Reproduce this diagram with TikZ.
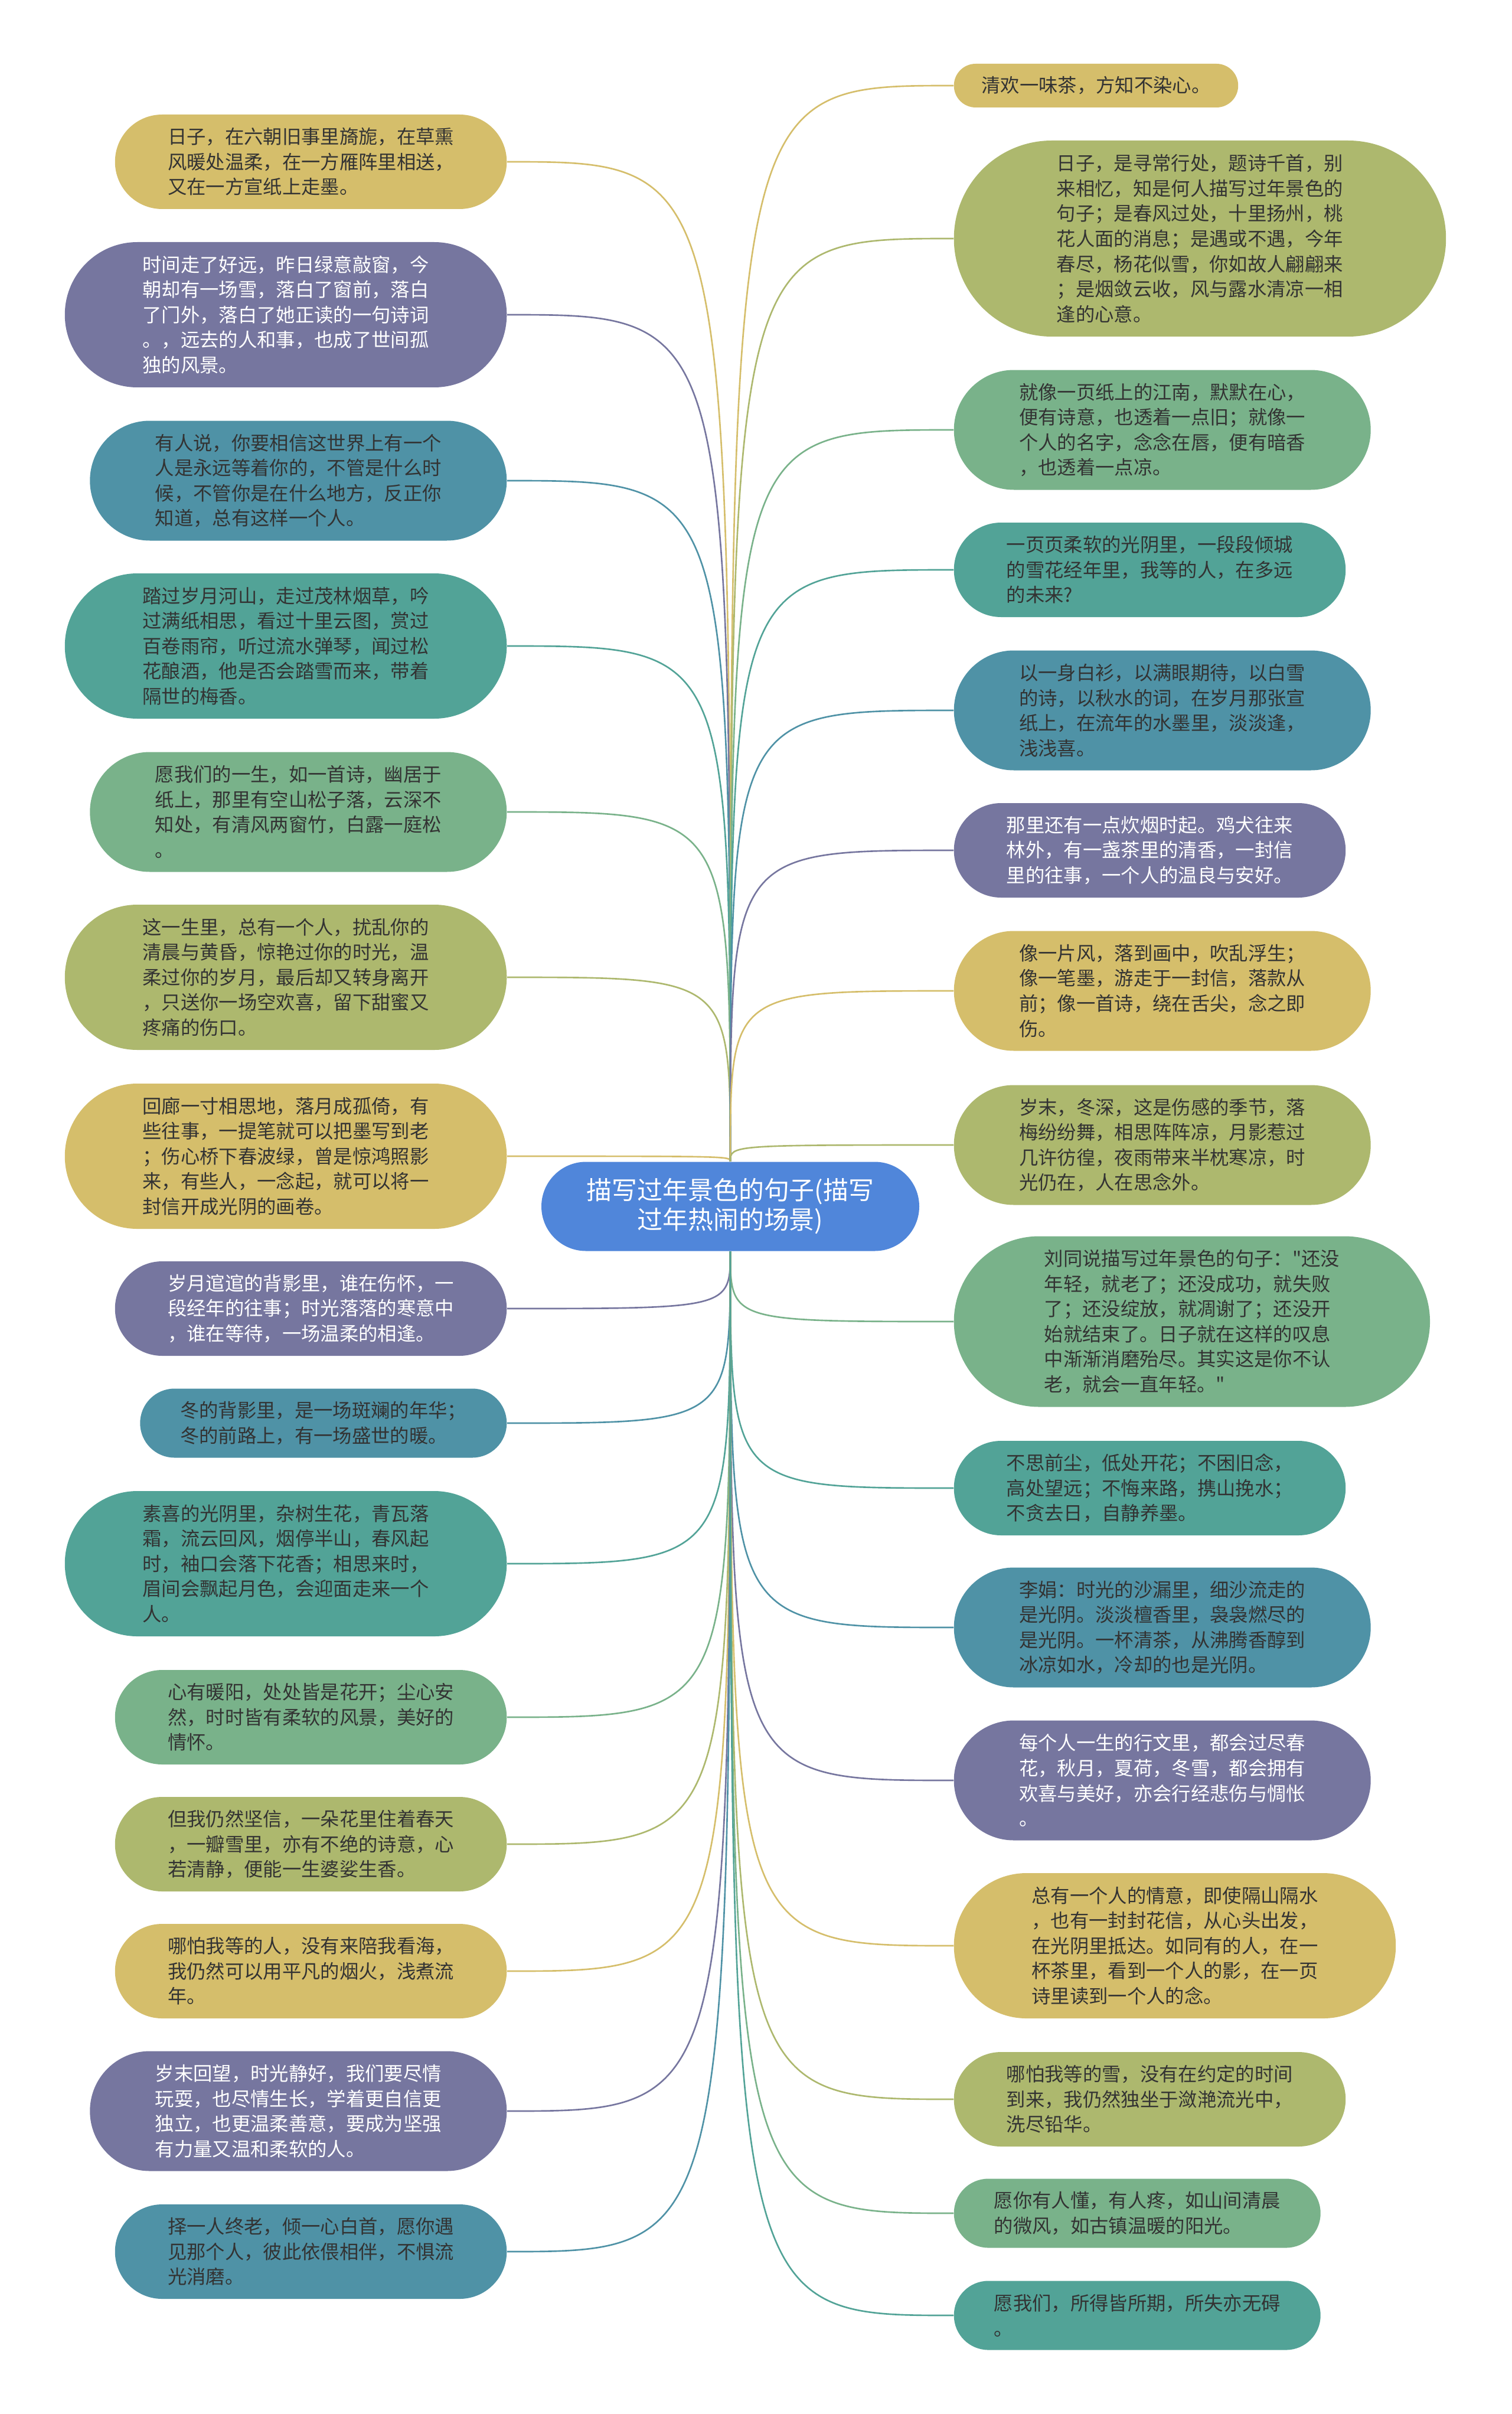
\documentclass[tikz,border=0pt]{standalone}
\usepackage{fontspec}
\newfontfamily\cjk{Noto Sans CJK SC}
\usepackage{tikz}
\usetikzlibrary{shapes.misc}
\definecolor{ctopic}{RGB}{80,134,218}
\definecolor{cgold}{RGB}{213,190,107}
\definecolor{colive}{RGB}{173,184,110}
\definecolor{cgreen}{RGB}{121,178,138}
\definecolor{cteal}{RGB}{82,163,151}
\definecolor{cblue}{RGB}{79,146,166}
\definecolor{cpurple}{RGB}{118,118,159}
\definecolor{cink}{RGB}{51,51,51}
\pgfdeclarelayer{links}
\pgfsetlayers{links,main}
\tikzset
{
  topic/.style={rounded rectangle,fill=ctopic,text=white,align=center,
    font=\cjk\fontsize{12.2pt}{14.2pt}\selectfont,
    minimum width=6.6cm,minimum height=1.51cm,inner xsep=0.1cm},
  leaf/.style={rectangle,text=cink,align=left,
    font=\cjk\fontsize{9.2pt}{12.1pt}\selectfont,inner ysep=0.1cm},
  nlines/.style={minimum height={0.31cm+#1*0.43cm},
    inner xsep={0.255cm+#1*0.2125cm},
    rounded corners={0.154cm+#1*0.215cm}},
  goldleaf/.style={leaf,fill=cgold},
  oliveleaf/.style={leaf,fill=colive},
  greenleaf/.style={leaf,fill=cgreen},
  tealleaf/.style={leaf,fill=cteal},
  blueleaf/.style={leaf,fill=cblue},
  purpleleaf/.style={leaf,fill=cpurple,text=white},
  link/.style={line width=0.75pt}
}

\begin{document}
\begin{tikzpicture}[x=1cm,y=-1cm]
        % Page frame
        \useasboundingbox (0,0) rectangle (25.6,40.88);

        % Central topic
        \node[topic] (topic) at (12.37,20.43) {描写过年景色的句子(描写\\过年热闹的场景)};

        % Left branch
        \node[goldleaf,nlines=3,anchor=east] (l1) at (8.59,2.74) {日子，在六朝旧事里旖旎，在草熏\\风暖处温柔，在一方雁阵里相送，\\又在一方宣纸上走墨。};
        \node[purpleleaf,nlines=5,anchor=east] (l2) at (8.59,5.33) {时间走了好远，昨日绿意敲窗，今\\朝却有一场雪，落白了窗前，落白\\了门外，落白了她正读的一句诗词\\。，远去的人和事，也成了世间孤\\独的风景。};
        \node[blueleaf,nlines=4,anchor=east] (l3) at (8.59,8.14) {有人说，你要相信这世界上有一个\\人是永远等着你的，不管是什么时\\候，不管你是在什么地方，反正你\\知道，总有这样一个人。};
        \node[tealleaf,nlines=5,anchor=east] (l4) at (8.59,10.94) {踏过岁月河山，走过茂林烟草，吟\\过满纸相思，看过十里云图，赏过\\百卷雨帘，听过流水弹琴，闻过松\\花酿酒，他是否会踏雪而来，带着\\隔世的梅香。};
        \node[greenleaf,nlines=4,anchor=east] (l5) at (8.59,13.75) {愿我们的一生，如一首诗，幽居于\\纸上，那里有空山松子落，云深不\\知处，有清风两窗竹，白露一庭松\\。};
        \node[oliveleaf,nlines=5,anchor=east] (l6) at (8.59,16.55) {这一生里，总有一个人，扰乱你的\\清晨与黄昏，惊艳过你的时光，温\\柔过你的岁月，最后却又转身离开\\，只送你一场空欢喜，留下甜蜜又\\疼痛的伤口。};
        \node[goldleaf,nlines=5,anchor=east] (l7) at (8.59,19.58) {回廊一寸相思地，落月成孤倚，有\\些往事，一提笔就可以把墨写到老\\；伤心桥下春波绿，曾是惊鸿照影\\来，有些人，一念起，就可以将一\\封信开成光阴的画卷。};
        \node[purpleleaf,nlines=3,anchor=east] (l8) at (8.59,22.16) {岁月逭逭的背影里，谁在伤怀，一\\段经年的往事；时光落落的寒意中\\，谁在等待，一场温柔的相逢。};
        \node[blueleaf,nlines=2,anchor=east] (l9) at (8.59,24.10) {冬的背影里，是一场斑斓的年华；\\冬的前路上，有一场盛世的暖。};
        \node[tealleaf,nlines=5,anchor=east] (l10) at (8.59,26.48) {素喜的光阴里，杂树生花，青瓦落\\霜，流云回风，烟停半山，春风起\\时，袖口会落下花香；相思来时，\\眉间会飘起月色，会迎面走来一个\\人。};
        \node[greenleaf,nlines=3,anchor=east] (l11) at (8.59,29.08) {心有暖阳，处处皆是花开；尘心安\\然，时时皆有柔软的风景，美好的\\情怀。};
        \node[oliveleaf,nlines=3,anchor=east] (l12) at (8.59,31.23) {但我仍然坚信，一朵花里住着春天\\，一瓣雪里，亦有不绝的诗意，心\\若清静，便能一生婆娑生香。};
        \node[goldleaf,nlines=3,anchor=east] (l13) at (8.59,33.38) {哪怕我等的人，没有来陪我看海，\\我仍然可以用平凡的烟火，浅煮流\\年。};
        \node[purpleleaf,nlines=4,anchor=east] (l14) at (8.59,35.75) {岁末回望，时光静好，我们要尽情\\玩耍，也尽情生长，学着更自信更\\独立，也更温柔善意，要成为坚强\\有力量又温和柔软的人。};
        \node[blueleaf,nlines=3,anchor=east] (l15) at (8.59,38.13) {择一人终老，倾一心白首，愿你遇\\见那个人，彼此依偎相伴，不惧流\\光消磨。};

        % Right branch
        \node[goldleaf,nlines=1,anchor=west] (r1) at (16.15,1.45) {清欢一味茶，方知不染心。};
        \node[oliveleaf,nlines=7,anchor=west] (r2) at (16.15,4.04) {日子，是寻常行处，题诗千首，别\\来相忆，知是何人描写过年景色的\\句子；是春风过处，十里扬州，桃\\花人面的消息；是遇或不遇，今年\\春尽，杨花似雪，你如故人翩翩来\\；是烟敛云收，风与露水清凉一相\\逢的心意。};
        \node[greenleaf,nlines=4,anchor=west] (r3) at (16.15,7.28) {就像一页纸上的江南，默默在心，\\便有诗意，也透着一点旧；就像一\\个人的名字，念念在唇，便有暗香\\，也透着一点凉。};
        \node[tealleaf,nlines=3,anchor=west] (r4) at (16.15,9.65) {一页页柔软的光阴里，一段段倾城\\的雪花经年里，我等的人，在多远\\的未来?};
        \node[blueleaf,nlines=4,anchor=west] (r5) at (16.15,12.03) {以一身白衫，以满眼期待，以白雪\\的诗，以秋水的词，在岁月那张宣\\纸上，在流年的水墨里，淡淡逢，\\浅浅喜。};
        \node[purpleleaf,nlines=3,anchor=west] (r6) at (16.15,14.40) {那里还有一点炊烟时起。鸡犬往来\\林外，有一盏茶里的清香，一封信\\里的往事，一个人的温良与安好。};
        \node[goldleaf,nlines=4,anchor=west] (r7) at (16.15,16.78) {像一片风，落到画中，吹乱浮生；\\像一笔墨，游走于一封信，落款从\\前；像一首诗，绕在舌尖，念之即\\伤。};
        \node[oliveleaf,nlines=4,anchor=west] (r8) at (16.15,19.39) {岁末，冬深，这是伤感的季节，落\\梅纷纷舞，相思阵阵凉，月影惹过\\几许彷徨，夜雨带来半枕寒凉，时\\光仍在，人在思念外。};
        \node[greenleaf,nlines=6,anchor=west] (r9) at (16.15,22.38) {刘同说描写过年景色的句子："还没\\年轻，就老了；还没成功，就失败\\了；还没绽放，就凋谢了；还没开\\始就结束了。日子就在这样的叹息\\中渐渐消磨殆尽。其实这是你不认\\老，就会一直年轻。"};
        \node[tealleaf,nlines=3,anchor=west] (r10) at (16.15,25.20) {不思前尘，低处开花；不困旧念，\\高处望远；不悔来路，携山挽水；\\不贪去日，自静养墨。};
        \node[blueleaf,nlines=4,anchor=west] (r11) at (16.15,27.56) {李娟：时光的沙漏里，细沙流走的\\是光阴。淡淡檀香里，袅袅燃尽的\\是光阴。一杯清茶，从沸腾香醇到\\冰凉如水，冷却的也是光阴。};
        \node[purpleleaf,nlines=4,anchor=west] (r12) at (16.15,30.15) {每个人一生的行文里，都会过尽春\\花，秋月，夏荷，冬雪，都会拥有\\欢喜与美好，亦会行经悲伤与惆怅\\。};
        \node[goldleaf,nlines=5,anchor=west] (r13) at (16.15,32.95) {总有一个人的情意，即使隔山隔水\\，也有一封封花信，从心头出发，\\在光阴里抵达。如同有的人，在一\\杯茶里，看到一个人的影，在一页\\诗里读到一个人的念。};
        \node[oliveleaf,nlines=3,anchor=west] (r14) at (16.15,35.55) {哪怕我等的雪，没有在约定的时间\\到来，我仍然独坐于潋滟流光中，\\洗尽铅华。};
        \node[greenleaf,nlines=2,anchor=west] (r15) at (16.15,37.48) {愿你有人懂，有人疼，如山间清晨\\的微风，如古镇温暖的阳光。};
        \node[tealleaf,nlines=2,anchor=west] (r16) at (16.15,39.21) {愿我们，所得皆所期，所失亦无碍\\。};

        % Links from the topic, drawn behind the boxes
        \begin{pgfonlayer}{links}
        \draw[link,cgold] (topic.north) .. controls (topic.north |- l1.east) .. (l1.east);
        \draw[link,cpurple] (topic.north) .. controls (topic.north |- l2.east) .. (l2.east);
        \draw[link,cblue] (topic.north) .. controls (topic.north |- l3.east) .. (l3.east);
        \draw[link,cteal] (topic.north) .. controls (topic.north |- l4.east) .. (l4.east);
        \draw[link,cgreen] (topic.north) .. controls (topic.north |- l5.east) .. (l5.east);
        \draw[link,colive] (topic.north) .. controls (topic.north |- l6.east) .. (l6.east);
        \draw[link,cgold] (topic.north) .. controls (topic.north |- l7.east) .. (l7.east);
        \draw[link,cpurple] (topic.south) .. controls (topic.south |- l8.east) .. (l8.east);
        \draw[link,cblue] (topic.south) .. controls (topic.south |- l9.east) .. (l9.east);
        \draw[link,cteal] (topic.south) .. controls (topic.south |- l10.east) .. (l10.east);
        \draw[link,cgreen] (topic.south) .. controls (topic.south |- l11.east) .. (l11.east);
        \draw[link,colive] (topic.south) .. controls (topic.south |- l12.east) .. (l12.east);
        \draw[link,cgold] (topic.south) .. controls (topic.south |- l13.east) .. (l13.east);
        \draw[link,cpurple] (topic.south) .. controls (topic.south |- l14.east) .. (l14.east);
        \draw[link,cblue] (topic.south) .. controls (topic.south |- l15.east) .. (l15.east);
        \draw[link,cgold] (topic.north) .. controls (topic.north |- r1.west) .. (r1.west);
        \draw[link,colive] (topic.north) .. controls (topic.north |- r2.west) .. (r2.west);
        \draw[link,cgreen] (topic.north) .. controls (topic.north |- r3.west) .. (r3.west);
        \draw[link,cteal] (topic.north) .. controls (topic.north |- r4.west) .. (r4.west);
        \draw[link,cblue] (topic.north) .. controls (topic.north |- r5.west) .. (r5.west);
        \draw[link,cpurple] (topic.north) .. controls (topic.north |- r6.west) .. (r6.west);
        \draw[link,cgold] (topic.north) .. controls (topic.north |- r7.west) .. (r7.west);
        \draw[link,colive] (topic.north) .. controls (topic.north |- r8.west) .. (r8.west);
        \draw[link,cgreen] (topic.south) .. controls (topic.south |- r9.west) .. (r9.west);
        \draw[link,cteal] (topic.south) .. controls (topic.south |- r10.west) .. (r10.west);
        \draw[link,cblue] (topic.south) .. controls (topic.south |- r11.west) .. (r11.west);
        \draw[link,cpurple] (topic.south) .. controls (topic.south |- r12.west) .. (r12.west);
        \draw[link,cgold] (topic.south) .. controls (topic.south |- r13.west) .. (r13.west);
        \draw[link,colive] (topic.south) .. controls (topic.south |- r14.west) .. (r14.west);
        \draw[link,cgreen] (topic.south) .. controls (topic.south |- r15.west) .. (r15.west);
        \draw[link,cteal] (topic.south) .. controls (topic.south |- r16.west) .. (r16.west);
        \end{pgfonlayer}
\end{tikzpicture}
\end{document}
